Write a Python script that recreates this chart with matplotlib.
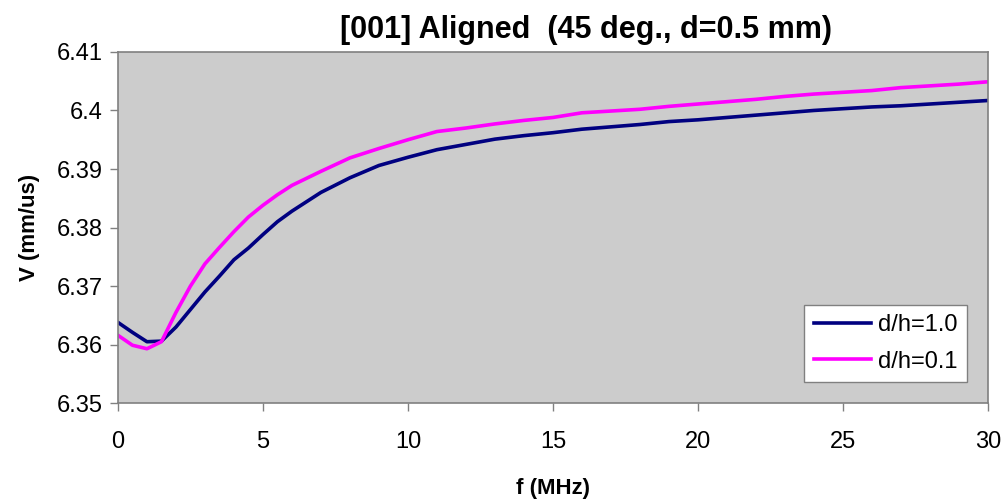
import numpy as np
import matplotlib
matplotlib.use("Agg")
from matplotlib import pyplot as plt

# frequency (MHz)
f = [0, 0.5, 1.0, 1.5, 2.0, 2.5, 3.0, 3.5, 4.0, 4.5, 5.0, 5.5, 6.0, 7.0, 8.0,
     9.0, 10, 11, 12, 13, 14, 15, 16, 17, 18, 19, 20, 21, 22, 23, 24, 25,
     26, 27, 28, 29, 30]

# velocity (mm/us), d/h = 1.0
v_10 = [6.3638, 6.3621, 6.3605, 6.3606, 6.3630, 6.3660, 6.3690, 6.3717,
        6.3745, 6.3765, 6.3788, 6.3810, 6.3828, 6.3860, 6.3885, 6.3906,
        6.3920, 6.3933, 6.3942, 6.3951, 6.3957, 6.3962, 6.3968, 6.3972,
        6.3976, 6.3981, 6.3984, 6.3988, 6.3992, 6.3996, 6.4000, 6.4003,
        6.4006, 6.4008, 6.4011, 6.4014, 6.4017]

# velocity (mm/us), d/h = 0.1
v_01 = [6.3616, 6.3599, 6.3593, 6.3605, 6.3655, 6.3700, 6.3738, 6.3766,
        6.3793, 6.3818, 6.3838, 6.3856, 6.3872, 6.3896, 6.3919, 6.3935,
        6.3950, 6.3964, 6.3970, 6.3977, 6.3983, 6.3988, 6.3996, 6.3999,
        6.4002, 6.4007, 6.4011, 6.4015, 6.4019, 6.4024, 6.4028, 6.4031,
        6.4034, 6.4039, 6.4042, 6.4045, 6.4049]

plt.rcParams['font.family'] = ['Liberation Sans', 'DejaVu Sans']

fig = plt.figure(figsize=(10.08, 5.04), dpi=100)
ax = fig.add_axes([0.117, 0.200, 0.863, 0.697])
ax.set_facecolor('#cccccc')

ax.plot(f, v_10, color='#000080', lw=2.6, label='d/h=1.0')
ax.plot(f, v_01, color='#ff00ff', lw=2.6, label='d/h=0.1')

ax.set_xlim(0, 30)
ax.set_ylim(6.35, 6.41)
ax.set_xticks(np.arange(0, 31, 5))
ax.set_yticks([6.35, 6.36, 6.37, 6.38, 6.39, 6.40, 6.41])
ax.set_yticklabels(['6.35', '6.36', '6.37', '6.38', '6.39', '6.4', '6.41'])

for s in ax.spines.values():
    s.set_color('#808080')
    s.set_linewidth(1.2)
ax.tick_params(colors='#808080', labelcolor='black', labelsize=17,
               length=6, width=1)
ax.tick_params(axis='x', pad=14)
ax.tick_params(axis='y', pad=5)

fig.text(0.581, 0.925, '[001] Aligned  (45 deg., d=0.5 mm)', fontsize=22,
         fontweight='bold', ha='center', va='baseline')
ax.set_xlabel('f (MHz)', fontsize=16, fontweight='bold', labelpad=18)
ax.set_ylabel('V (mm/us)', fontsize=16, fontweight='bold', labelpad=12)

leg = ax.legend(loc='lower right', fontsize=17, frameon=True, fancybox=False,
                edgecolor='#808080', framealpha=1, handlelength=2.4,
                borderaxespad=0.9, handletextpad=0.3, labelspacing=0.6)
leg.get_frame().set_linewidth(1.0)

fig.savefig('out.png', dpi=100)
